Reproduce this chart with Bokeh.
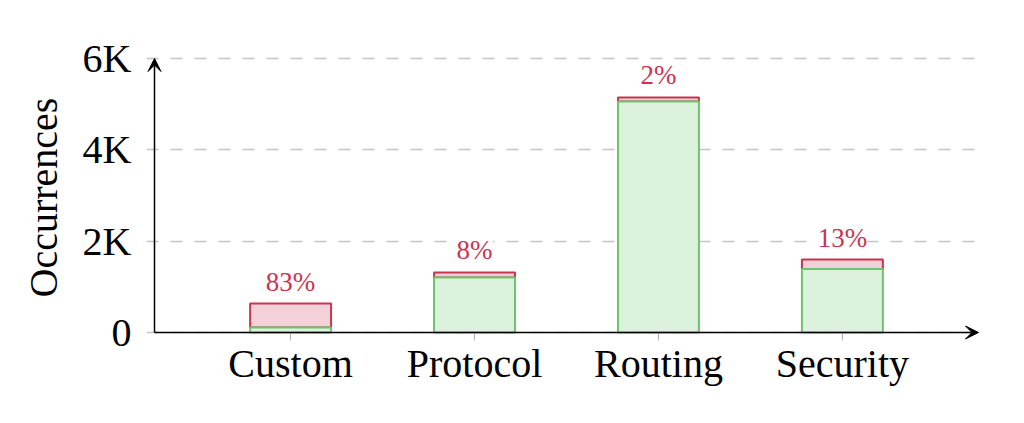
from bokeh.plotting import figure
from bokeh.models import ColumnDataSource, LabelSet, Arrow, VeeHead, FactorRange, Range1d
from bokeh.embed import file_html
from bokeh.resources import INLINE

# data
categories = ["Custom", "Protocol", "Routing", "Security"]
fixed = [108, 1204, 5058, 1392]        # green, lower part
unfixed = [527, 110, 88, 206]          # red, upper part
y_ticks = [0, 2000, 4000, 6000]
y_tick_labels = {0: "0", 2000: "2K", 4000: "4K", 6000: "6K"}

FONT = "Liberation Serif"
RED = "#cc3350"
GREEN = "#6cc46c"

totals = [a + b for a, b in zip(fixed, unfixed)]
pct = ["%d%%" % round(100 * b / t) for b, t in zip(unfixed, totals)]

source = ColumnDataSource(dict(
    cat=categories, fixed=fixed, unfixed=unfixed, total=totals, pct=pct,
))

# the frame is a bit larger than the axes so the arrow heads are not clipped
ax_pad = 0.24          # gap between y axis and first bar slot (category units)
fr_pad = 0.2835        # frame padding (category units)
y_top = 6000
px_per_unit = 274 / y_top
below = 8              # px of frame below y=0
p = figure(
    x_range=FactorRange(*categories, range_padding=fr_pad, range_padding_units="absolute"),
    y_range=Range1d(-below / px_per_unit, y_top + 4 / px_per_unit),
    frame_width=840, frame_height=274 + below + 4,
    min_border_left=146, min_border_right=18, min_border_top=54, min_border_bottom=70,
    output_backend="svg", toolbar_location=None,
)

# red part first, green part drawn over it so the seam is green
p.vbar(x="cat", bottom="fixed", top="total", width=0.44, source=source,
       fill_color="#f2d1d9", line_color=RED, line_width=2)
p.vbar(x="cat", bottom=0, top="fixed", width=0.44, source=source,
       fill_color="#dcf2dc", line_color=GREEN, line_width=2)

labels = LabelSet(x="cat", y="total", text="pct", source=source,
                  text_align="center", text_baseline="alphabetic", y_offset=13,
                  text_font=FONT, text_font_size="27px", text_color=RED,
                  background_fill_color="white")
p.add_layout(labels)

# axis lines with arrow heads
head = dict(size=13, fill_color="black", line_color="black", line_width=1)
p.add_layout(Arrow(end=VeeHead(**head), x_start=-ax_pad, y_start=0,
                   x_end=len(categories) + ax_pad, y_end=0, line_width=1.5))
p.add_layout(Arrow(end=VeeHead(**head), x_start=-ax_pad, y_start=0,
                   x_end=-ax_pad, y_end=y_top, line_width=1.5))

p.outline_line_color = None
p.axis.axis_line_color = None
p.axis.minor_tick_line_color = None
p.axis.major_label_text_font = FONT
p.axis.major_label_text_font_size = "40px"
p.axis.major_label_text_color = "black"

p.xaxis.major_tick_line_color = "#b0b0b0"
p.xaxis.major_tick_in = below
p.xaxis.major_tick_out = 0
p.xaxis.major_label_standoff = 0

p.yaxis.ticker = y_ticks
p.yaxis.major_label_overrides = y_tick_labels
p.yaxis.major_tick_line_color = None
p.yaxis.major_tick_in = 0
p.yaxis.major_tick_out = 0
p.yaxis.major_label_standoff = 15
p.yaxis.axis_label = "Occurrences"
p.yaxis.axis_label_text_font = FONT
p.yaxis.axis_label_text_font_size = "40px"
p.yaxis.axis_label_text_font_style = "normal"
p.yaxis.axis_label_text_color = "black"
p.yaxis.axis_label_standoff = 14

p.xgrid.grid_line_color = None
p.ygrid.grid_line_color = "#c4c4c4"
p.ygrid.grid_line_width = 1.5
p.ygrid.grid_line_dash = "12 12"

open("out.html", "w").write(file_html(p, INLINE))
